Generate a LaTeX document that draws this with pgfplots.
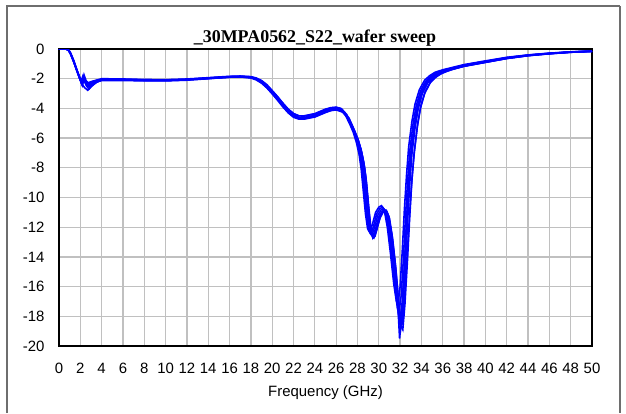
\documentclass[border=0pt]{standalone}
\usepackage{fontspec}
\setmainfont{Liberation Sans}
\newfontfamily\titlefont{Liberation Serif}
\usepackage{pgfplots}
\usepackage{pgfplotstable}
\pgfplotsset{compat=1.18}
\definecolor{gridgray}{RGB}{192,192,192}
\definecolor{framegray}{RGB}{110,110,110}
\definecolor{traceblue}{RGB}{0,0,255}

\pgfplotstableread{
x y
0 0
0.6 0
0.85 -0.05
1.05 -0.25
1.3 -0.7
1.6 -1.3
1.9 -1.9
2.15 -2.35
2.3 -1.9
2.5 -2.25
2.75 -2.4
3.0 -2.3
3.5 -2.15
4.0 -2.05
5 -2.05
6 -2.05
7 -2.08
8 -2.1
9 -2.1
10 -2.1
11 -2.1
12 -2.05
13 -2.0
14 -1.96
15 -1.91
16 -1.87
17 -1.85
17.5 -1.86
18 -1.9
18.5 -2.0
19 -2.2
19.5 -2.5
20 -2.9
20.5 -3.3
21 -3.75
21.5 -4.15
22 -4.45
22.5 -4.6
23 -4.6
23.5 -4.55
24 -4.45
24.5 -4.3
25 -4.15
25.5 -4.05
26 -4.0
26.5 -4.1
27 -4.55
27.5 -5.3
27.8 -5.8
28.1 -6.5
28.35 -7.3
28.55 -8.3
28.75 -9.8
28.95 -11.3
29.15 -12.3
29.35 -12.55
29.6 -12.0
29.9 -11.2
30.2 -10.85
30.45 -10.75
30.7 -11.0
31.0 -12.2
31.3 -14.0
31.6 -16.2
31.85 -17.9
32.0 -18.2
32.2 -17.0
32.4 -14.5
32.6 -11.5
32.8 -9.0
33.0 -7.0
33.3 -5.2
33.6 -3.9
34.0 -2.9
34.5 -2.2
35 -1.85
35.5 -1.62
36 -1.47
37 -1.27
38 -1.1
39 -0.96
40 -0.85
41 -0.72
42 -0.6
43 -0.5
44 -0.42
45 -0.35
46 -0.3
47 -0.25
48 -0.2
49 -0.17
50 -0.15
}\traceA

\pgfplotstableread{
x y
0 0
0.7 0
0.95 -0.1
1.2 -0.5
1.5 -1.1
1.8 -1.7
2.05 -2.2
2.25 -1.8
2.45 -2.2
2.7 -2.3
3.0 -2.2
3.5 -2.1
4 -2.0
6 -2.02
8 -2.05
10 -2.07
12 -2.02
14 -1.93
16 -1.84
17 -1.82
18 -1.86
18.5 -1.95
19 -2.12
19.5 -2.4
20 -2.8
20.5 -3.2
21 -3.65
21.5 -4.05
22 -4.35
22.5 -4.5
23 -4.5
24 -4.35
25 -4.05
25.5 -3.95
26 -3.92
26.4 -4.0
26.8 -4.35
27.3 -5.1
27.6 -5.6
27.9 -6.3
28.15 -7.1
28.35 -8.1
28.55 -9.6
28.75 -11.1
28.95 -12.1
29.15 -12.35
29.4 -11.8
29.7 -11.0
30.0 -10.65
30.25 -10.55
30.5 -10.8
30.8 -12.0
31.1 -13.8
31.4 -15.8
31.65 -17.0
31.8 -17.2
32.0 -16.0
32.2 -13.6
32.4 -10.8
32.6 -8.5
32.8 -6.6
33.1 -4.9
33.4 -3.7
33.8 -2.75
34.3 -2.1
34.8 -1.78
35.3 -1.56
36 -1.4
38 -1.05
40 -0.8
42 -0.56
44 -0.4
46 -0.28
48 -0.19
50 -0.14
}\traceB

\pgfplotstableread{
x y
0 0
0.6 0
0.85 -0.05
1.1 -0.35
1.4 -0.9
1.7 -1.5
2.0 -2.1
2.2 -2.45
2.35 -2.0
2.55 -2.45
2.8 -2.7
3.1 -2.45
3.6 -2.2
4 -2.1
6 -2.08
8 -2.12
10 -2.13
12 -2.08
14 -1.99
16 -1.9
17 -1.88
18 -1.93
18.5 -2.05
19 -2.27
19.5 -2.6
20 -3.0
20.5 -3.4
21 -3.85
21.5 -4.25
22 -4.55
22.5 -4.7
23 -4.7
24 -4.55
25 -4.25
25.5 -4.13
26 -4.08
26.6 -4.2
27.2 -4.7
27.7 -5.5
28.0 -6.0
28.3 -6.7
28.55 -7.5
28.75 -8.5
28.95 -10.0
29.15 -11.6
29.35 -12.5
29.55 -12.7
29.8 -12.2
30.1 -11.4
30.4 -11.0
30.65 -10.9
30.9 -11.2
31.2 -12.5
31.5 -14.4
31.75 -16.8
31.95 -19.5
32.15 -18.0
32.4 -15.0
32.6 -12.2
32.8 -9.6
33.0 -7.5
33.3 -5.6
33.6 -4.2
34.0 -3.1
34.5 -2.35
35 -1.95
35.5 -1.7
36 -1.53
38 -1.15
40 -0.9
42 -0.64
44 -0.45
46 -0.32
48 -0.22
50 -0.16
}\traceC

\pgfplotstableread{
x y
0 0
0.6 0
0.85 -0.04
1.05 -0.22
1.3 -0.65
1.6 -1.25
1.9 -1.85
2.15 -2.3
2.3 -1.95
2.5 -2.3
2.8 -2.5
3.1 -2.35
3.6 -2.2
4 -2.12
6 -2.12
8 -2.15
10 -2.15
12 -2.1
14 -2.0
16 -1.9
17 -1.88
18 -1.95
18.5 -2.08
19 -2.3
19.5 -2.62
20 -3.02
20.5 -3.45
21 -3.9
21.5 -4.3
22 -4.6
22.5 -4.72
23 -4.72
24 -4.58
25 -4.28
25.5 -4.15
26 -4.1
26.6 -4.25
27.1 -4.65
27.6 -5.4
27.9 -5.95
28.2 -6.6
28.45 -7.4
28.65 -8.4
28.85 -9.9
29.05 -11.5
29.25 -12.4
29.45 -12.6
29.7 -12.1
30.0 -11.3
30.3 -10.95
30.55 -10.85
30.8 -11.1
31.1 -12.3
31.4 -14.1
31.7 -16.4
31.9 -18.2
32.05 -18.8
32.25 -17.4
32.5 -14.6
32.7 -11.6
32.9 -9.1
33.1 -7.1
33.4 -5.3
33.7 -4.0
34.1 -2.95
34.6 -2.25
35.1 -1.88
35.6 -1.64
36 -1.5
38 -1.12
40 -0.87
42 -0.62
44 -0.43
46 -0.31
48 -0.21
50 -0.15
}\traceD

\pgfplotstableread{
x y
0 0
0.65 0
0.9 -0.07
1.1 -0.3
1.4 -0.8
1.7 -1.45
2.0 -2.0
2.2 -2.3
2.35 -1.75
2.55 -2.15
2.8 -2.3
3.1 -2.2
3.6 -2.1
4 -2.05
6 -2.04
8 -2.08
10 -2.08
12 -2.04
14 -1.95
16 -1.86
17 -1.84
18 -1.88
18.5 -1.98
19 -2.18
19.5 -2.45
20 -2.82
20.5 -3.22
21 -3.65
21.5 -4.05
22 -4.35
22.5 -4.5
23 -4.52
24 -4.38
25 -4.08
25.5 -3.97
26 -3.93
26.5 -4.02
27 -4.42
27.4 -5.1
27.7 -5.65
28.0 -6.35
28.25 -7.2
28.45 -8.2
28.65 -9.7
28.85 -11.2
29.05 -12.2
29.25 -12.45
29.5 -11.95
29.8 -11.1
30.1 -10.75
30.35 -10.65
30.6 -10.9
30.9 -12.1
31.2 -13.9
31.5 -16.0
31.75 -17.5
31.9 -17.7
32.1 -16.6
32.3 -14.2
32.5 -11.3
32.7 -8.9
32.9 -6.9
33.2 -5.1
33.5 -3.85
33.9 -2.85
34.4 -2.17
34.9 -1.83
35.4 -1.6
36 -1.44
38 -1.08
40 -0.83
42 -0.58
44 -0.41
46 -0.29
48 -0.2
50 -0.15
}\traceE

\pgfplotstableread{
x y
0 0
0.6 0
0.85 -0.06
1.05 -0.3
1.35 -0.8
1.65 -1.4
1.95 -2.0
2.2 -2.4
2.4 -2.6
2.7 -2.78
3.0 -2.55
3.5 -2.25
4 -2.1
6 -2.06
8 -2.1
10 -2.11
12 -2.06
14 -1.97
16 -1.88
17 -1.86
18 -1.9
18.5 -2.02
19 -2.25
19.5 -2.55
20 -2.95
20.5 -3.35
21 -3.8
21.5 -4.2
22 -4.5
22.5 -4.64
23 -4.64
24 -4.5
25 -4.2
25.5 -4.08
26 -4.03
26.6 -4.15
27.2 -4.65
27.7 -5.45
28.05 -6.1
28.35 -6.8
28.6 -7.7
28.8 -8.8
29.0 -10.4
29.2 -11.9
29.4 -12.6
29.6 -12.45
29.85 -11.8
30.15 -11.1
30.45 -10.85
30.7 -10.85
30.95 -11.3
31.25 -12.6
31.55 -14.5
31.8 -16.5
32.0 -18.0
32.2 -18.4
32.4 -17.0
32.65 -14.0
32.9 -11.0
33.1 -8.8
33.35 -6.8
33.65 -5.0
33.95 -3.8
34.35 -2.85
34.9 -2.15
35.5 -1.8
36 -1.6
37 -1.35
38 -1.17
40 -0.9
42 -0.64
44 -0.45
46 -0.32
48 -0.22
50 -0.16
}\traceF

\pgfplotstableread{
x y
0 0
0.6 0
0.85 -0.05
1.05 -0.24
1.3 -0.68
1.6 -1.28
1.9 -1.88
2.15 -2.38
2.3 -2.0
2.5 -2.35
2.8 -2.55
3.1 -2.35
3.6 -2.15
4 -2.07
6 -2.07
8 -2.11
10 -2.11
12 -2.07
14 -1.98
16 -1.89
17 -1.87
18 -1.92
18.5 -2.03
19 -2.24
19.5 -2.54
20 -2.95
20.5 -3.36
21 -3.8
21.5 -4.2
22 -4.5
22.5 -4.65
23 -4.66
24 -4.52
25 -4.22
25.5 -4.1
26 -4.05
26.6 -4.18
27.2 -4.7
27.7 -5.5
28.1 -6.2
28.4 -7.0
28.65 -7.9
28.85 -9.0
29.05 -10.6
29.25 -12.0
29.45 -12.75
29.65 -12.6
29.9 -11.9
30.2 -11.15
30.5 -10.9
30.75 -10.95
31.0 -11.4
31.3 -12.8
31.6 -14.8
31.85 -16.9
32.05 -18.6
32.25 -18.9
32.45 -17.2
32.7 -14.1
32.9 -11.3
33.1 -8.9
33.3 -7.1
33.6 -5.3
33.9 -4.0
34.3 -3.0
34.8 -2.3
35.3 -1.92
35.8 -1.68
36.5 -1.46
38 -1.15
40 -0.89
42 -0.63
44 -0.44
46 -0.31
48 -0.21
50 -0.15
}\traceG

\begin{document}
\begin{tikzpicture}[x=1bp,y=1bp]
\begin{axis}[
  width=533bp, height=297bp, scale only axis,
  xmin=0, xmax=50, ymin=-20, ymax=0,
  xtick={0,2,...,50}, ytick={-20,-18,...,0},
  grid=major,
  major grid style={color=gridgray, line width=1.3bp},
  axis line style={line width=1.6bp, black},
  tick style={draw=none},
  /pgf/number format/assume math mode=true,
  ticklabel style={font=\fontsize{15}{18}\selectfont},
  xticklabel style={yshift=-14bp},
  yticklabel style={xshift=-11bp},
  xlabel={Frequency (GHz)},
  xlabel style={font=\fontsize{15}{18}\selectfont, at={(axis description cs:0.5,-0.156)}, anchor=center},
  tr/.style={traceblue, line width=1.6bp, mark=none},
]
\coordinate (O) at (rel axis cs:0,0);
\addplot[tr] table[x=x,y=y] {\traceA};
\addplot[tr] table[x=x,y=y] {\traceB};
\addplot[tr] table[x=x,y=y] {\traceC};
\addplot[tr] table[x=x,y=y] {\traceD};
\addplot[tr] table[x=x,y=y] {\traceE};
\addplot[tr] table[x=x,y=y] {\traceF};
\addplot[tr] table[x=x,y=y] {\traceG};
\end{axis}
\pgfresetboundingbox
\begin{scope}[shift={(O)}, shift={(-59,-67)}]
\path[use as bounding box] (0,0) rectangle (626,413);
\draw[framegray, line width=1.2bp] (7,0) -- (7,407) -- (620,407);
\draw[framegray, line width=2.5bp] (620,407) -- (620,0);
\node[anchor=base, font=\titlefont\bfseries\fontsize{18}{20}\selectfont] at (315,371) {\_30MPA0562\_S22\_wafer sweep};
\end{scope}
\end{tikzpicture}
\end{document}
